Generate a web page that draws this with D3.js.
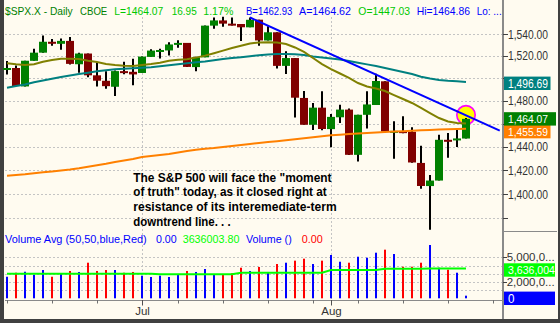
<!DOCTYPE html>
<html><head><meta charset="utf-8">
<script src="https://cdn.jsdelivr.net/npm/d3@7/dist/d3.min.js"></script>
<style>html,body{margin:0;padding:0;background:#404040;}svg{display:block;font-family:"Liberation Sans",Arial,sans-serif;}</style>
</head><body>
<svg id="c" width="560" height="323"></svg>
<script>
// ---- data (SPX daily, 11 Jun 2007 – 22 Aug 2007) ----
const dates = ["06-11","06-12","06-13","06-14","06-15","06-18","06-19","06-20","06-21","06-22","06-25","06-26","06-27","06-28","06-29",
"07-02","07-03","07-05","07-06","07-09","07-10","07-11","07-12","07-13","07-16","07-17","07-18","07-19","07-20","07-23","07-24","07-25","07-26","07-27","07-30","07-31",
"08-01","08-02","08-03","08-06","08-07","08-08","08-09","08-10","08-13","08-14","08-15","08-16","08-17","08-20","08-21","08-22"];
const open = [1507.64,1509.12,1492.65,1515.58,1522.97,1532.90,1531.02,1533.68,1512.50,1522.19,1502.56,1497.68,1492.34,1506.32,1505.70,1504.66,1519.12,1524.86,1524.96,1530.43,1531.85,1509.93,1518.74,1547.68,1552.50,1549.52,1549.20,1546.13,1553.19,1534.06,1541.57,1511.03,1518.09,1482.44,1458.93,1473.90,1455.18,1465.46,1472.18,1433.04,1467.62,1476.22,1497.21,1453.09,1453.42,1452.87,1426.15,1406.64,1411.26,1445.94,1445.55,1447.03];
const high = [1515.53,1511.33,1515.70,1526.45,1538.71,1535.44,1535.85,1537.32,1522.90,1522.19,1514.29,1506.12,1506.80,1514.84,1517.53,1519.45,1526.01,1526.57,1532.40,1534.26,1531.85,1519.34,1547.92,1555.10,1555.90,1555.32,1549.20,1555.20,1553.19,1547.23,1541.57,1524.31,1518.09,1488.53,1477.88,1488.30,1468.38,1476.43,1473.23,1467.67,1488.30,1503.89,1497.21,1462.02,1466.29,1456.74,1440.78,1415.97,1450.33,1451.75,1455.32,1464.86];
const low = [1503.35,1492.97,1492.65,1515.58,1522.97,1529.31,1525.67,1512.36,1504.75,1500.74,1492.68,1490.54,1484.18,1503.41,1493.61,1504.66,1519.12,1517.72,1520.47,1527.45,1510.01,1506.10,1518.74,1544.85,1546.69,1547.74,1533.67,1546.13,1529.20,1534.06,1508.62,1503.73,1465.30,1458.95,1454.32,1454.25,1439.59,1460.58,1432.80,1427.39,1455.80,1476.22,1453.09,1429.74,1451.54,1426.20,1404.36,1370.60,1411.26,1430.54,1439.76,1447.03];
const close = [1509.12,1493.00,1515.67,1522.97,1532.91,1531.05,1533.70,1512.84,1522.19,1502.56,1497.74,1492.89,1506.34,1505.71,1503.35,1519.43,1524.87,1525.40,1530.44,1531.85,1510.12,1518.76,1547.70,1552.50,1549.52,1549.37,1546.17,1553.08,1534.10,1541.57,1511.04,1518.09,1482.66,1458.95,1473.91,1455.27,1465.81,1472.20,1433.06,1467.67,1476.71,1497.49,1453.09,1453.64,1452.92,1426.54,1406.70,1411.27,1445.94,1445.55,1447.12,1464.07];
const prevClose = 1507.67;
const volume = [2630000,3120000,3240000,2840000,3450000,2630000,2960000,3330000,3210000,4340000,3330000,3450000,3450000,3120000,3210000,2760000,2600000,2760000,2600000,2840000,3330000,3210000,3570000,2840000,2840000,3050000,3730000,3330000,3820000,3210000,4180000,4340000,4590000,4830000,4180000,4590000,5280000,4460000,4340000,5070000,4950000,5560000,5930000,5400000,3850000,3850000,4340000,6500000,3730000,3490000,3120000,320000];
const volAvg = [3000000,3000000,3000000,3000000,3000000,3000000,3000000,3000000,3000000,3000000,3000000,3000000,3000000,3000000,3000000,3000000,3000000,
2930000,2930000,2930000,2930000,2930000,2930000,2930000,2930000,2930000,
3120000,3120000,3120000,3120000,3120000,3120000,3120000,3120000,3120000,3120000,
3450000,3450000,3450000,3450000,3450000,3450000,
3600000,3600000,3600000,3600000,3600000,
3636003.8,3636003.8,3636003.8,3636003.8,3636003.8];
const ma20 = [1513.4,1512.5,1511.8,1512.5,1514.8,1516.3,1517.5,1517.5,1517.2,1515.7,1514.5,1512.7,1511.8,1511.2,1510.9,1511.8,1512.7,1513.9,1515.7,1516.6,1517.0,1518.5,1520.3,1522.5,1524.8,1527.2,1529.3,1531.3,1532.2,1532.4,1532.2,1530.9,1527.7,1523.6,1518.1,1512.7,1508.2,1504.2,1500.2,1495.7,1492.6,1490.8,1488.6,1485.0,1481.5,1478.0,1473.6,1469.2,1464.8,1461.8,1460.5,1460.0];
const ma50 = [1491.5,1493.0,1494.4,1496.4,1497.9,1499.5,1501.1,1502.4,1503.7,1504.9,1506.2,1507.2,1508.0,1508.5,1508.9,1509.3,1509.8,1510.6,1511.5,1512.5,1513.4,1514.3,1515.0,1516.1,1517.2,1518.1,1518.9,1519.8,1520.6,1521.3,1521.8,1521.8,1521.5,1520.9,1519.5,1518.6,1517.7,1516.8,1515.4,1513.9,1512.4,1510.9,1509.1,1507.3,1505.5,1503.7,1501.3,1499.7,1498.4,1497.7,1497.2,1496.69];
const ma200 = [1415.4,1415.9,1416.5,1417.5,1418.2,1418.9,1419.7,1420.5,1421.6,1422.9,1424.1,1425.4,1427.0,1428.2,1429.5,1431.2,1432.1,1432.9,1433.8,1435.0,1436.3,1437.4,1438.2,1438.9,1439.8,1440.6,1441.5,1442.3,1443.2,1444.0,1444.7,1445.5,1446.4,1447.2,1448.1,1449.0,1449.8,1450.4,1450.9,1451.4,1451.8,1452.3,1452.7,1453.0,1453.4,1453.7,1454.1,1454.4,1454.8,1455.0,1455.3,1455.59];
const trendBars = [27, 54.75];
const trendValues = [1555.2, 1453.8];
const priceGrid = [1540,1520,1500,1480,1460,1440,1420,1400,1380];
const priceTickLabels = [1540,1520,1480,1440,1420,1400];
const volGrid = [1000000,2000000,3000000,4000000,5000000];
const volTickLabels = [[5000000,"5,000,0..."],[2000000,"2,000,0..."]];
const weekTickBars = [0,5,10,15,19,24,29,34,39,44,49,54];
const monthTicks = [["Jul",15],["Aug",36]];
const annotation = ["The S&P 500 will face the \"moment","of truth\" today, as it closed right at","resistance of its interemediate-term","downtrend line. . ."];

// ---- drawing ----
const svg = d3.select("#c");
const CREAM = "#fffbf0";
svg.append("rect").attr("width",560).attr("height",323).attr("fill","#404040");
svg.append("rect").attr("x",4).attr("y",0).attr("width",554).attr("height",319).attr("fill",CREAM);

const x = d3.scaleLinear().domain([0,51]).range([7,466]);
const y = d3.scaleLog().domain([1400,1540]).range([194,34]);
const yv = d3.scaleLinear().domain([0,5000000]).range([298.3,257.3]);
const fmt = d3.format(",.2f");

const grid = svg.append("g").attr("stroke","#c4c4c4").attr("stroke-width",1).attr("stroke-dasharray","2,2");
priceGrid.forEach(v=>grid.append("line").attr("x1",5).attr("x2",503).attr("y1",Math.round(y(v))+0.5).attr("y2",Math.round(y(v))+0.5));
volGrid.forEach(v=>grid.append("line").attr("x1",5).attr("x2",503).attr("y1",Math.round(yv(v))+0.5).attr("y2",Math.round(yv(v))+0.5));
monthTicks.forEach(m=>grid.append("line").attr("x1",Math.round(x(m[1]))+0.5).attr("x2",Math.round(x(m[1]))+0.5).attr("y1",17).attr("y2",300));

// highlight ellipse
svg.append("ellipse").attr("cx",x(51)).attr("cy",115).attr("rx",9.2).attr("ry",9.4)
  .attr("fill","#ffff00").attr("stroke","#ff00ff").attr("stroke-width",1.6);

// volume bars
const idx = d3.range(dates.length);
svg.append("g").selectAll("rect").data(idx).join("rect")
  .attr("x",i=>x(i)-1).attr("width",2)
  .attr("y",i=>yv(volume[i])).attr("height",i=>yv(0)-yv(volume[i]))
  .attr("fill",i=>close[i] >= (i===0?prevClose:close[i-1]) ? "#0000ff" : "#ff0000");
svg.append("path").datum(idx).attr("fill","none").attr("stroke","#00ff00").attr("stroke-width",2)
  .attr("d",d3.line().x(i=>x(i)).y(i=>yv(volAvg[i])));

// candles
const cg = svg.append("g");
cg.selectAll("line").data(idx).join("line")
  .attr("x1",i=>x(i)).attr("x2",i=>x(i)).attr("y1",i=>y(high[i])).attr("y2",i=>y(low[i]))
  .attr("stroke","#000").attr("stroke-width",2);
cg.selectAll("rect").data(idx).join("rect")
  .attr("x",i=>x(i)-4).attr("width",8)
  .attr("y",i=>Math.min(y(open[i]),y(close[i])))
  .attr("height",i=>Math.max(2,Math.abs(y(open[i])-y(close[i]))))
  .attr("fill",i=>close[i]>=open[i]?"#008000":"#800000");

// moving averages
const maLine = arr => d3.line().x(i=>x(i)).y(i=>y(arr[i]))(idx);
svg.append("path").attr("d",maLine(ma200)).attr("fill","none").attr("stroke","#ff8000").attr("stroke-width",2);
svg.append("path").attr("d",maLine(ma50)).attr("fill","none").attr("stroke","#008080").attr("stroke-width",2);
svg.append("path").attr("d",maLine(ma20)).attr("fill","none").attr("stroke","#808000").attr("stroke-width",2);
// trendline
svg.append("line").attr("x1",x(trendBars[0])).attr("y1",y(trendValues[0])).attr("x2",x(trendBars[1])).attr("y2",y(trendValues[1]))
  .attr("stroke","#0000ff").attr("stroke-width",2);

// annotation
const annY = [181.6,196.3,211,225.7], annW = [198.3,193.3,203.3,97.3];
annotation.forEach((t,k)=>svg.append("text").attr("x",133.3).attr("y",annY[k]).attr("font-size",12.5).attr("font-weight","bold")
  .attr("fill","#000").attr("textLength",annW[k]).attr("lengthAdjust","spacingAndGlyphs").text(t));

// header
const header = [
  ["$SPX.X - Daily",5,67.7,"#008000"],["CBOE",80,27.3,"#008000"],
  ["L="+close[51].toFixed(2),114.3,49,"#00c800"],[(close[51]-close[50]).toFixed(2),171.7,25,"#00c800"],
  [((close[51]-close[50])/close[50]*100).toFixed(2)+"%",203.3,30,"#00c800"],
  ["B=1462.93",246,46.3,"#0000ff"],["A=1464.62",299,52,"#0000ff"],
  ["O="+open[51].toFixed(2),358.3,51.7,"#00c800"],["Hi="+high[51].toFixed(2),416.7,53.3,"#0000ff"],["Lo: ...",476.7,25,"#0000ff"]];
header.forEach(h=>svg.append("text").attr("x",h[1]).attr("y",15).attr("font-size",11).attr("fill",h[3])
  .attr("textLength",h[2]).attr("lengthAdjust","spacingAndGlyphs").text(h[0]));
const vhead = [["Volume Avg (50,50,blue,Red)",5,141.7,"#0000ff"],["0.00",156,20.7,"#0000ff"],
  [volAvg[51].toFixed(2),182.7,56.7,"#00ff00"],["Volume ()",246,45.7,"#0000ff"],["0.00",301.7,21,"#ff0000"]];
vhead.forEach(h=>svg.append("text").attr("x",h[1]).attr("y",243.3).attr("font-size",11).attr("fill",h[3])
  .attr("textLength",h[2]).attr("lengthAdjust","spacingAndGlyphs").text(h[0]));

// right axis
const ax = svg.append("g");
ax.append("line").attr("x1",503).attr("x2",503).attr("y1",0).attr("y2",319).attr("stroke","#8a8a8a").attr("stroke-width",2);
ax.append("line").attr("x1",503).attr("x2",557).attr("y1",231.5).attr("y2",231.5).attr("stroke","#8a8a8a").attr("stroke-width",1);
priceGrid.forEach(v=>ax.append("line").attr("x1",503).attr("x2",508).attr("y1",Math.round(y(v))+0.5).attr("y2",Math.round(y(v))+0.5).attr("stroke","#404040"));
priceTickLabels.forEach(v=>ax.append("text").attr("x",508).attr("y",y(v)+4.5).attr("font-size",12).attr("fill","#333")
  .attr("textLength",40).attr("lengthAdjust","spacingAndGlyphs").text(fmt(v)));
volTickLabels.forEach(v=>{
  ax.append("line").attr("x1",503).attr("x2",507).attr("y1",Math.round(yv(v[0]))+0.5).attr("y2",Math.round(yv(v[0]))+0.5).attr("stroke","#404040");
  ax.append("text").attr("x",506.7).attr("y",yv(v[0])+3.8).attr("font-size",11).attr("fill","#333")
    .attr("textLength",48).attr("lengthAdjust","spacingAndGlyphs").text(v[1]);
});
function box(cy,w,fill,txt,tl,fs){
  ax.append("rect").attr("x",504).attr("y",cy-6.7).attr("width",w).attr("height",13.4).attr("fill",fill);
  ax.append("text").attr("x",508).attr("y",cy+4.3).attr("font-size",fs||12).attr("fill","#fff")
    .attr("textLength",tl).attr("lengthAdjust","spacingAndGlyphs").text(txt);
}
box(y(ma50[51])+1.4,46.5,"#008080",fmt(ma50[51]),40);
box(y(ma200[51])+3,46.5,"#ff8000",fmt(ma200[51]),40,11);
box(y(close[51]),52,"#008000",fmt(close[51]),40,11);
box(yv(volAvg[51])+1.5,51,"#00ff00",d3.format(",.0f")(volAvg[51]),47,11);
box(yv(0),51,"#0000ff","0",6.5);

// x axis
ax.append("line").attr("x1",5).attr("x2",503).attr("y1",300.5).attr("y2",300.5).attr("stroke","#8a8a8a");
weekTickBars.forEach(b=>ax.append("line").attr("x1",x(b)+0.5).attr("x2",x(b)+0.5).attr("y1",300).attr("y2",303.5).attr("stroke","#707070"));
monthTicks.forEach(m=>{
  ax.append("line").attr("x1",x(m[1])+0.5).attr("x2",x(m[1])+0.5).attr("y1",300).attr("y2",305.5).attr("stroke","#505050");
  ax.append("text").attr("x",x(m[1])+0.5).attr("y",314.5).attr("text-anchor","middle").attr("font-size",11.5).attr("fill","#333").text(m[0]);
});
</script>
</body></html>
